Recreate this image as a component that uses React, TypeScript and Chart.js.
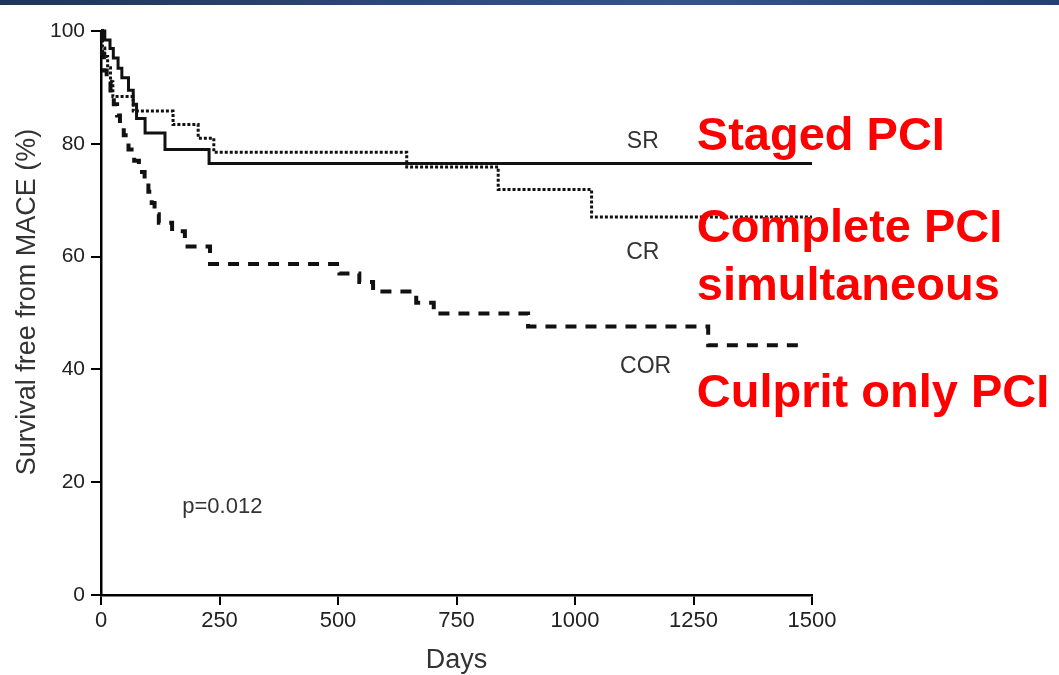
import React, { useEffect, useRef } from "react";
import { Chart, registerables } from "chart.js";

Chart.register(...registerables);

// Staged PCI (SR) – solid
const srDays = [0, 8, 19, 26, 36, 44, 58, 68, 75, 93, 135, 228, 1500];
const srSurvival = [100, 98.4, 96.9, 95.2, 93.4, 91.7, 89.5, 87.0, 84.5, 81.9, 79.0, 76.5, 76.5];

// Complete PCI simultaneous (CR) – dotted
const crDays = [0, 3, 8, 14, 20, 25, 68, 152, 205, 238, 645, 838, 1035, 1500];
const crSurvival = [100, 97, 95.5, 93.5, 91, 88.4, 85.8, 83.4, 81.0, 78.5, 75.9, 71.9, 67.0, 67.0];

// Culprit only PCI (COR) – dashed
const corDays = [0, 2, 6, 12, 20, 27, 34, 40, 48, 58, 70, 80, 92, 100, 107, 113, 122, 150, 177, 230, 503, 545, 574, 665, 702, 901, 1281, 1480];
const corSurvival = [100, 96, 93, 91, 89, 87, 85, 83.5, 81.5, 79, 77, 75, 73.5, 71.5, 69.5, 67.5, 66, 64.5, 61.8, 58.7, 57, 55.5, 53.8, 51.8, 49.9, 47.6, 44.3, 44.3];

const xTickValues = [0, 250, 500, 750, 1000, 1250, 1500];
const xTickLabels = ["0", "250", "500", "750", "1000", "1250", "1500"];
const yTickValues = [0, 20, 40, 60, 80, 100];
const yTickLabels = ["0", "20", "40", "60", "80", "100"];

const xTitle = "Days";
const yTitle = "Survival free from MACE (%)";

const curveLabels = ["SR", "CR", "COR"];
const curveLabelDays = [1143, 1143, 1149];
const curveLabelValues = [79.3, 59.6, 39.4];

const groupNames = ["Staged PCI", "Complete PCI", "simultaneous", "Culprit only PCI"];
const groupLabelDay = 1257;
const groupLabelValues = [78.9, 62.6, 52.3, 33.4];

const pText = "p=0.012";
const pDay = 256;
const pValue = 14.5;

const FONT = "'Liberation Sans', Arial, 'Helvetica Neue', sans-serif";

const toPoints = (xs: number[], ys: number[]) => xs.map((x, i) => ({ x, y: ys[i] }));

const annotationPlugin = {
  id: "kmAnnotations",
  afterDraw(chart: any) {
    const { ctx, chartArea, scales } = chart;
    const xs = scales.x;
    const ys = scales.y;
    ctx.save();
    // curve labels
    ctx.fillStyle = "#333";
    ctx.font = `23px ${FONT}`;
    ctx.textAlign = "center";
    ctx.textBaseline = "alphabetic";
    curveLabels.forEach((t, i) => {
      ctx.fillText(t, xs.getPixelForValue(curveLabelDays[i]), ys.getPixelForValue(curveLabelValues[i]));
    });
    // p value
    ctx.font = `22px ${FONT}`;
    ctx.fillText(pText, xs.getPixelForValue(pDay), ys.getPixelForValue(pValue));
    // group names (red)
    ctx.fillStyle = "#ff0000";
    ctx.font = `bold 47px ${FONT}`;
    ctx.textAlign = "left";
    groupNames.forEach((t, i) => {
      ctx.fillText(t, xs.getPixelForValue(groupLabelDay), ys.getPixelForValue(groupLabelValues[i]));
    });
    // axis titles
    ctx.fillStyle = "#333";
    ctx.font = `27px ${FONT}`;
    ctx.textAlign = "center";
    ctx.fillText(xTitle, (chartArea.left + chartArea.right) / 2, chartArea.bottom + 73);
    ctx.translate(28, (chartArea.top + chartArea.bottom) / 2 - 11);
    ctx.rotate(-Math.PI / 2);
    ctx.textBaseline = "middle";
    ctx.fillText(yTitle, 0, 0);
    ctx.restore();
  },
};

export default function App() {
  const canvasRef = useRef<HTMLCanvasElement | null>(null);

  useEffect(() => {
    document.body.style.margin = "0";
    const canvas = canvasRef.current;
    if (!canvas) return;
    const common = {
      stepped: true,
      fill: false,
      pointRadius: 0,
      borderColor: "#111",
      clip: false as any,
      borderCapStyle: "butt" as const,
    };
    const chart = new Chart(canvas, {
      type: "line",
      data: {
        datasets: [
          { ...common, label: "SR", data: toPoints(srDays, srSurvival), borderWidth: 3 },
          { ...common, label: "CR", data: toPoints(crDays, crSurvival), borderWidth: 3, borderDash: [3, 2] },
          { ...common, label: "COR", data: toPoints(corDays, corSurvival), borderWidth: 4, borderDash: [11, 9] },
        ],
      },
      options: {
        animation: false,
        responsive: false,
        maintainAspectRatio: false,
        layout: { padding: { top: 31, right: 247, bottom: 0, left: 0 } },
        plugins: { legend: { display: false }, tooltip: { enabled: false } },
        scales: {
          x: {
            type: "linear",
            min: 0,
            max: 1500,
            afterBuildTicks: (scale: any) => {
              scale.ticks = xTickValues.map((v) => ({ value: v }));
            },
            afterFit: (scale: any) => {
              scale.height = 80;
            },
            ticks: {
              color: "#222",
              font: { family: FONT, size: 22 },
              padding: 3,
              maxRotation: 0,
              autoSkip: false,
              callback: (v: any) => {
                const i = xTickValues.indexOf(Number(v));
                return i >= 0 ? xTickLabels[i] : "";
              },
            },
            grid: { display: true, drawOnChartArea: false, drawTicks: true, tickLength: 10, color: "#000", lineWidth: 2 },
            border: { display: true, color: "#000", width: 2.5 },
          },
          y: {
            type: "linear",
            min: 0,
            max: 100,
            afterBuildTicks: (scale: any) => {
              scale.ticks = yTickValues.map((v) => ({ value: v }));
            },
            afterFit: (scale: any) => {
              scale.width = 101;
            },
            ticks: {
              color: "#222",
              font: { family: FONT, size: 21 },
              padding: 6,
              autoSkip: false,
              callback: (v: any) => {
                const i = yTickValues.indexOf(Number(v));
                return i >= 0 ? yTickLabels[i] : "";
              },
            },
            grid: { display: true, drawOnChartArea: false, drawTicks: true, tickLength: 10, color: "#000", lineWidth: 2 },
            border: { display: true, color: "#000", width: 2.5 },
          },
        },
      },
      plugins: [annotationPlugin],
    });
    return () => chart.destroy();
  }, []);

  return (
    <div style={{ position: "absolute", left: 0, top: 0, width: 1059, height: 675, background: "#fff" }}>
      <canvas ref={canvasRef} width={1059} height={675} style={{ position: "absolute", left: 0, top: 0 }} />
      <div
        style={{
          position: "absolute",
          left: 0,
          top: 0,
          width: 1059,
          height: 5,
          background: "linear-gradient(90deg, #1f3558 0%, #2f4c7a 45%, #355585 65%, #24406b 100%)",
        }}
      />
    </div>
  );
}
